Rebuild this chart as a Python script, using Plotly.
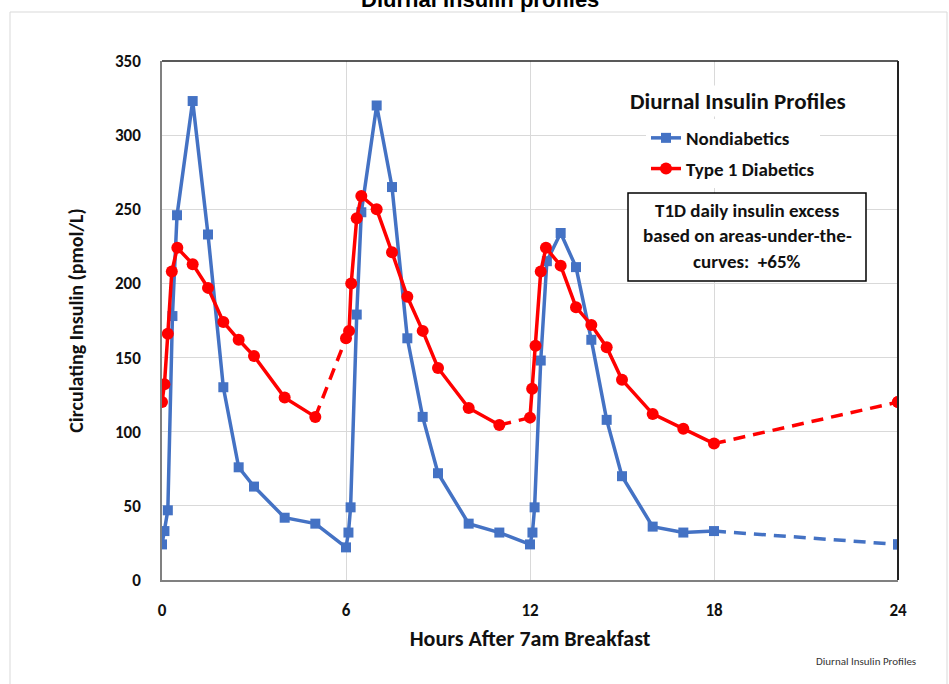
import plotly.graph_objects as go

# ---------------- data ----------------
nondiab_hours = [0, 0.08, 0.19, 0.34, 0.49, 1.0, 1.5, 2.0, 2.5, 3.0, 4.0, 5.0,
                 6.0, 6.08, 6.15, 6.35, 6.5, 7.0, 7.5, 8.0, 8.5, 9.0, 10.0, 11.0,
                 12.0, 12.08, 12.15, 12.35, 12.55, 13.0, 13.5, 14.0, 14.5, 15.0,
                 16.0, 17.0, 18.0, 24.0]
nondiab_insulin = [24, 33, 47, 178, 246, 323, 233, 130, 76, 63, 42, 38,
                   22, 32, 49, 179, 248, 320, 265, 163, 110, 72, 38, 32,
                   24, 32, 49, 148, 215, 234, 211, 162, 108, 70,
                   36, 32, 33, 24]
nondiab_dashed_from = [36]          # segment index i -> i+1 drawn dashed

t1d_hours = [0, 0.08, 0.19, 0.32, 0.5, 1.0, 1.5, 2.0, 2.5, 3.0, 4.0, 5.0,
             6.0, 6.1, 6.17, 6.35, 6.5, 7.0, 7.5, 8.0, 8.5, 9.0, 10.0, 11.0,
             12.0, 12.07, 12.18, 12.35, 12.52, 13.0, 13.5, 14.0, 14.5, 15.0,
             16.0, 17.0, 18.0, 24.0]
t1d_insulin = [120, 132, 166, 208, 224, 213, 197, 174, 162, 151, 123, 110,
               163, 168, 200, 244, 259, 250, 221, 191, 168, 143, 116, 104.5,
               109.5, 129, 158, 208, 224, 212, 184, 172, 157, 135,
               112, 102, 92, 120]
t1d_dashed_from = [11, 23, 36]

x_ticks = [0, 6, 12, 18, 24]
y_ticks = [0, 50, 100, 150, 200, 250, 300, 350]

series_names = ["Nondiabetics", "Type 1 Diabetics"]
chart_title = "Diurnal Insulin profiles"
legend_title = "Diurnal Insulin Profiles"
note_lines = ["T1D daily insulin excess", "based on areas-under-the-", "curves:  +65%"]
x_title = "Hours After 7am Breakfast"
y_title = "Circulating Insulin (pmol/L)"
footer = "Diurnal Insulin Profiles"

BLUE = "#4472C4"
RED = "#FF0000"
FONT = "Carlito, Lato, sans-serif"

fig = go.Figure()


def add_series(xs, ys, dashed_from, name, color, symbol, msize, group):
    runs = []
    start = 0
    for i in sorted(dashed_from):
        runs.append((start, i))
        start = i + 1
    runs.append((start, len(xs) - 1))
    first = True
    for a, b in runs:
        fig.add_trace(go.Scatter(
            x=xs[a:b + 1], y=ys[a:b + 1], mode="lines+markers", name=name,
            legendgroup=group, showlegend=first,
            line=dict(color=color, width=3.5),
            marker=dict(color=color, symbol=symbol, size=msize),
        ))
        first = False
    for i in dashed_from:
        fig.add_trace(go.Scatter(
            x=xs[i:i + 2], y=ys[i:i + 2], mode="lines", showlegend=False,
            legendgroup=group, line=dict(color=color, width=3.5, dash="12px,8px"),
        ))
        if i + 1 == len(xs) - 1:
            fig.add_trace(go.Scatter(
                x=[xs[-1]], y=[ys[-1]], mode="markers", showlegend=False,
                legendgroup=group, marker=dict(color=color, symbol=symbol, size=msize),
            ))


add_series(nondiab_hours, nondiab_insulin, nondiab_dashed_from, series_names[0],
           BLUE, "square", 10, "nd")
add_series(t1d_hours, t1d_insulin, t1d_dashed_from, series_names[1],
           RED, "circle", 12, "t1")

W, H = 949, 684
L, R, T, B = 162, 51, 61, 104
pw, ph = W - L - R, H - T - B


def px(xp):
    return (xp - L) / pw


def py(yp):
    return (H - B - yp) / ph


shapes = [
    dict(type="rect", xref="paper", yref="paper", x0=px(10), x1=px(947),
         y0=py(720), y1=py(12), line=dict(color="#d9d9d9", width=1), layer="below"),
    dict(type="line", xref="paper", yref="paper", x0=0, x1=1, y0=1, y1=1,
         line=dict(color="#222222", width=1.5)),
    dict(type="line", xref="paper", yref="paper", x0=1, x1=1, y0=0, y1=1,
         line=dict(color="#222222", width=2)),
    dict(type="rect", xref="paper", yref="paper", x0=px(628), x1=px(866),
         y0=py(281), y1=py(193), fillcolor="white",
         line=dict(color="black", width=1.5), layer="above"),
]

annotations = [
    dict(text=chart_title, xref="paper", yref="paper", x=px(480), y=py(-1),
         xanchor="center", yanchor="middle", showarrow=False,
         font=dict(family="Liberation Sans, Arial", size=22, color="black", weight="bold")),
    dict(text=legend_title, xref="paper", yref="paper", x=px(738), y=py(101),
         xanchor="center", yanchor="middle", showarrow=False, bgcolor="white",
         font=dict(family=FONT, size=23, color="#111111", weight="bold")),
    dict(text=footer, xref="paper", yref="paper", x=px(866), y=py(661),
         xanchor="center", yanchor="middle", showarrow=False,
         font=dict(family=FONT, size=11, color="#333333")),
]
for line, yy in zip(note_lines, [211, 236, 261]):
    annotations.append(dict(text=line, xref="paper", yref="paper", x=px(747), y=py(yy),
                            xanchor="center", yanchor="middle", showarrow=False,
                            font=dict(family=FONT, size=19, color="#111111", weight="bold")))

fig.update_layout(
    width=W, height=H,
    margin=dict(l=L, r=R, t=T, b=B, autoexpand=False),
    paper_bgcolor="white", plot_bgcolor="white",
    font=dict(family=FONT, color="#111111"),
    showlegend=True,
    legend=dict(x=px(646), y=py(119), xanchor="left", yanchor="top",
                bgcolor="white", font=dict(family=FONT, size=19, color="#111111", weight="bold"),
                tracegroupgap=3, itemwidth=30, traceorder="grouped"),
    shapes=shapes,
    annotations=annotations,
    xaxis=dict(range=[0, 24], tickvals=x_ticks, showgrid=True, gridcolor="#d9d9d9",
               gridwidth=1.2, zeroline=False, showline=True, linecolor="#808080", linewidth=1.5,
               ticks="outside", ticklen=14, tickcolor="rgba(0,0,0,0)",
               tickfont=dict(family=FONT, size=17, color="#111111", weight="bold"),
               title=dict(text=x_title, standoff=10,
                          font=dict(family=FONT, size=22, color="#111111", weight="bold"))),
    yaxis=dict(range=[0, 350], tickvals=y_ticks, showgrid=True, gridcolor="#d9d9d9",
               gridwidth=1.2, zeroline=False, showline=True, linecolor="#808080", linewidth=1.5,
               ticks="outside", ticklen=16, tickcolor="rgba(0,0,0,0)",
               tickfont=dict(family=FONT, size=17, color="#111111", weight="bold"),
               title=dict(text=y_title, standoff=26,
                          font=dict(family=FONT, size=20, color="#111111", weight="bold"))),
)

# remove the browser's default 8px page margin so the chart sits at the window's corner
fig.write_html("out.html", config={"displayModeBar": False},
               post_script="document.body.style.margin='0';")
